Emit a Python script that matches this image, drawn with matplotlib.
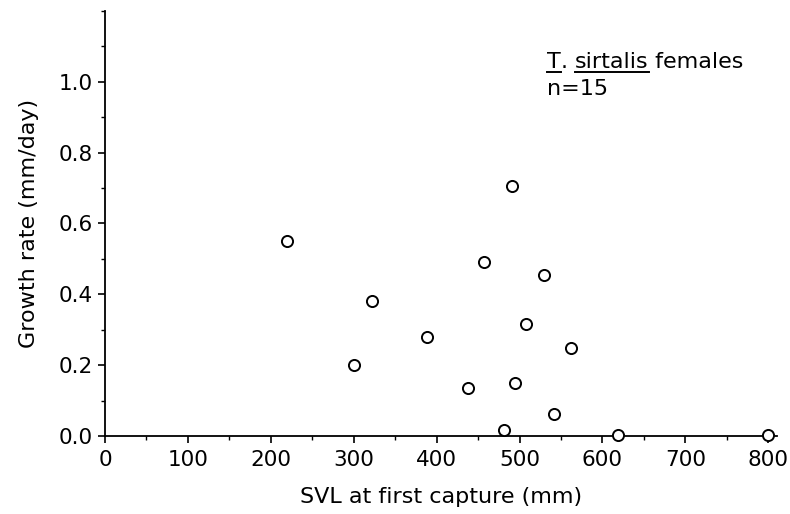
import matplotlib
matplotlib.use("Agg")
import matplotlib.pyplot as plt
from matplotlib.ticker import MultipleLocator
from matplotlib.lines import Line2D

svl = [220, 300, 322, 388, 438, 457, 481, 491, 494, 508, 530, 542, 562, 619, 800]
growth = [0.55, 0.20, 0.38, 0.28, 0.135, 0.49, 0.017, 0.705, 0.15, 0.315, 0.455, 0.062, 0.248, 0.003, 0.003]

xticks = [0, 100, 200, 300, 400, 500, 600, 700, 800]
yticks = [0.0, 0.2, 0.4, 0.6, 0.8, 1.0]
xlabel = "SVL at first capture (mm)"
ylabel = "Growth rate (mm/day)"

plt.rcParams['font.family'] = ['DejaVu Sans']
fig = plt.figure(figsize=(7.9, 5.14), dpi=100)
ax = fig.add_axes([0.1329, 0.1518, 0.983 - 0.1329, 0.9786 - 0.1518])

ax.plot(svl, growth, linestyle='none', marker='o', markersize=8,
        markerfacecolor='white', markeredgecolor='black', markeredgewidth=1.4, clip_on=False, zorder=3)

ax.set_xlim(0, 810)
ax.set_ylim(0, 1.2)
ax.spines['top'].set_visible(False)
ax.spines['right'].set_visible(False)
for s in ['left', 'bottom']:
    ax.spines[s].set_linewidth(1.3)
ax.set_xticks(xticks)
ax.set_xticklabels([str(v) for v in xticks])
ax.set_yticks(yticks)
ax.set_yticklabels([f"{v:.1f}" for v in yticks])
ax.xaxis.set_minor_locator(MultipleLocator(50))
ax.yaxis.set_minor_locator(MultipleLocator(0.1))
ax.tick_params(axis='both', which='major', direction='out', length=5, width=1.2, labelsize=15.5, pad=5, colors='black')
ax.tick_params(axis='both', which='minor', direction='out', length=3, width=1.0)
ax.tick_params(axis='y', which='major', pad=4)
ax.set_xlabel(xlabel, fontsize=16, labelpad=12)
ax.set_ylabel(ylabel, fontsize=16, labelpad=14)

# annotation with underlines
fs = 16
t1 = fig.text(547 / 790, 1 - 68 / 514, "T", fontsize=fs, va='baseline', ha='left')
t2 = ax.annotate(". ", xy=(1, 0), xycoords=t1, va='bottom', ha='left', fontsize=fs)
t3 = ax.annotate("sirtalis", xy=(1, 0), xycoords=t2, va='bottom', ha='left', fontsize=fs)
t4 = ax.annotate(" females", xy=(1, 0), xycoords=t3, va='bottom', ha='left', fontsize=fs)
fig.text(547 / 790, 1 - 95 / 514, "n=15", fontsize=fs, va='baseline', ha='left')

fig.canvas.draw()
r = fig.canvas.get_renderer()
W, H = fig.bbox.width, fig.bbox.height
y_line = (514 - 71.5)
for t in (t1, t3):
    bb = t.get_window_extent(r)
    fig.add_artist(Line2D([bb.x0 / W, bb.x1 / W], [y_line / H, y_line / H], color='black', lw=1.4, transform=fig.transFigure))

fig.savefig("out.png", dpi=100)
